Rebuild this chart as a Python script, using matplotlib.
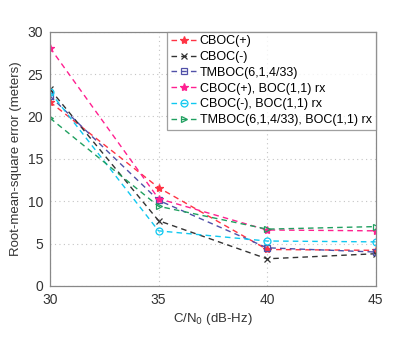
import matplotlib
matplotlib.use("Agg")
import matplotlib.pyplot as plt

plt.rcParams["font.family"] = ["Liberation Sans", "DejaVu Sans"]

cn0 = [30, 35, 40, 45]
labels = [
    "CBOC(+)",
    "CBOC(-)",
    "TMBOC(6,1,4/33)",
    "CBOC(+), BOC(1,1) rx",
    "CBOC(-), BOC(1,1) rx",
    "TMBOC(6,1,4/33), BOC(1,1) rx",
]
cboc_plus = [21.7, 11.6, 4.3, 4.2]
cboc_minus = [23.2, 7.7, 3.2, 3.8]
tmboc = [22.4, 10.1, 4.5, 4.0]
cboc_plus_boc = [28.1, 10.3, 6.6, 6.5]
cboc_minus_boc = [22.9, 6.5, 5.3, 5.2]
tmboc_boc = [19.8, 9.4, 6.7, 7.0]

series = [cboc_plus, cboc_minus, tmboc, cboc_plus_boc, cboc_minus_boc, tmboc_boc]
colors = ["#FF3344", "#333333", "#5050A8", "#FF2090", "#10C8F0", "#20A060"]
markers = ["*", "x", "s", "*", "o", ">"]
fills = ["full", "full", "none", "full", "none", "none"]
sizes = [6, 4, 4, 6, 5, 5]

fig = plt.figure(figsize=(4.0, 3.4), dpi=100)
ax = fig.add_axes([0.125, 0.159, 0.814, 0.748])

for vals, lab, col, mk, fs, ms in zip(series, labels, colors, markers, fills, sizes):
    ax.plot(cn0, vals, linestyle=(0, (4, 3)), linewidth=1.0, color=col,
            marker=mk, fillstyle=fs, markersize=ms, markeredgewidth=0.9, label=lab)

ax.set_xlim(30, 45)
ax.set_ylim(0, 30)
ax.set_xticks([30, 35, 40, 45])
ax.set_yticks([0, 5, 10, 15, 20, 25, 30])
ax.grid(True, linestyle=(0, (1, 3)), color="#c4c4c4", linewidth=0.8)
ax.tick_params(direction="in", labelsize=10, colors="#333333", length=0, pad=5)
for sp in ax.spines.values():
    sp.set_color("#888888")
    sp.set_linewidth(0.9)

ax.set_xlabel("C/N$_0$ (dB-Hz)", fontsize=9.5, color="#333333", labelpad=3)
ax.set_ylabel("Root-mean-square error (meters)", fontsize=9.5, color="#333333", labelpad=4)

leg = ax.legend(loc="upper right", fontsize=9, frameon=True, fancybox=False,
                handlelength=2.0, handletextpad=0.3, labelspacing=0.3,
                borderpad=0.3, borderaxespad=0.0)
leg.get_frame().set_edgecolor("#888888")
leg.get_frame().set_linewidth(0.9)

fig.savefig("out.png", dpi=100)
